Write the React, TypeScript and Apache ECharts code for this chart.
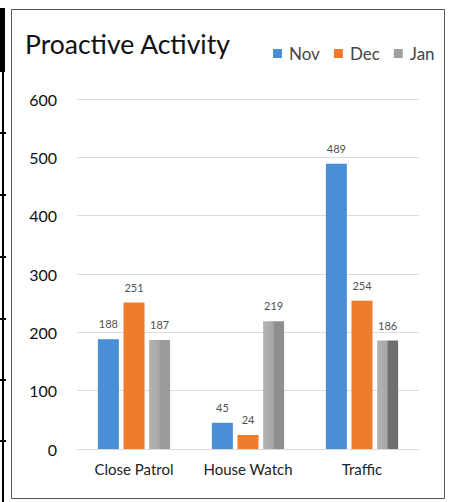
import React, { useEffect, useRef } from "react";
import * as echarts from "echarts";

const categories = ["Close Patrol", "House Watch", "Traffic"];
const novValues = [188, 45, 489];
const decValues = [251, 24, 254];
const janValues = [187, 219, 186];
const seriesNames = ["Nov", "Dec", "Jan"];
const yTicks = [0, 100, 200, 300, 400, 500, 600];

const FONT = "Lato, 'Open Sans', sans-serif";

export default function App() {
  const ref = useRef<HTMLDivElement>(null);
  useEffect(() => {
    if (!ref.current) return;
    const chart = echarts.init(ref.current, undefined, { renderer: "svg" });
    const label = {
      show: true,
      position: "top",
      distance: 10,
      fontSize: 11,
      color: "#505050",
      fontFamily: FONT,
    };
    const janGrad = (dark: string) =>
      new echarts.graphic.LinearGradient(0, 0, 1, 0, [
        { offset: 0, color: "#b4b4b4" },
        { offset: 0.45, color: "#a8a8a8" },
        { offset: 0.55, color: dark },
        { offset: 1, color: dark },
      ]);
    const janDark = ["#9a9a9a", "#8e8e8e", "#6e6e6e"];
    const ticks: any[] = [132, 194, 256, 318, 379, 440].map((y) => ({
      type: "rect",
      shape: { x: 0, y: y, width: 6, height: 2 },
      style: { fill: "#000" },
      silent: true,
    }));
    chart.setOption({
      animation: false,
      backgroundColor: "#fff",
      title: {
        text: "Proactive Activity",
        left: 20,
        top: 25,
        textStyle: { fontFamily: FONT, fontSize: 26.5, fontWeight: "normal", color: "#111" },
      },
      legend: {
        data: seriesNames,
        left: 268,
        top: 40,
        itemWidth: 9,
        itemHeight: 9,
        itemGap: 14,
        icon: "rect",
        textStyle: { fontFamily: FONT, fontSize: 17, color: "#444", padding: [0, 0, 0, 2] },
      },
      grid: { left: 77, right: 32, top: 99, bottom: 53 },
      xAxis: {
        type: "category",
        data: categories,
        axisLine: { show: true, lineStyle: { color: "#d9d9d9" } },
        axisTick: { show: false },
        axisLabel: { interval: 0, fontFamily: FONT, fontSize: 15, color: "#222", margin: 12 },
      },
      yAxis: {
        type: "value",
        min: yTicks[0],
        max: yTicks[yTicks.length - 1],
        interval: 100,
        axisLine: { show: false },
        axisTick: { show: false },
        splitLine: { lineStyle: { color: "#dcdcdc" } },
        axisLabel: { fontFamily: FONT, fontSize: 16, color: "#111", margin: 20 },
      },
      series: [
        {
          name: seriesNames[0],
          type: "bar",
          data: novValues,
          barWidth: 21,
          barGap: "22%",
          itemStyle: { color: "#4a8fd6" },
          label,
        },
        {
          name: seriesNames[1],
          type: "bar",
          data: decValues,
          barWidth: 21,
          barGap: "22%",
          itemStyle: { color: "#f07b2b" },
          label,
        },
        {
          name: seriesNames[2],
          type: "bar",
          data: janValues.map((v, i) => ({ value: v, itemStyle: { color: janGrad(janDark[i]) } })),
          barWidth: 21,
          barGap: "22%",
          itemStyle: { color: "#a0a0a0" },
          label,
        },
      ],
      graphic: [
        {
          type: "rect",
          shape: { x: 11.5, y: 9.5, width: 433, height: 489 },
          style: { fill: "none", stroke: "#555", lineWidth: 1 },
          silent: true,
          z: 100,
        },
        {
          type: "rect",
          shape: { x: 0, y: 8, width: 5, height: 64 },
          style: { fill: "#000" },
          silent: true,
        },
        {
          type: "rect",
          shape: { x: 2, y: 72, width: 2, height: 430 },
          style: { fill: "#000" },
          silent: true,
        },
        ...ticks,
      ],
    });
    return () => chart.dispose();
  }, []);
  return (
    <div
      ref={ref}
      style={{ position: "fixed", left: 0, top: 0, width: 451, height: 502 }}
    />
  );
}
